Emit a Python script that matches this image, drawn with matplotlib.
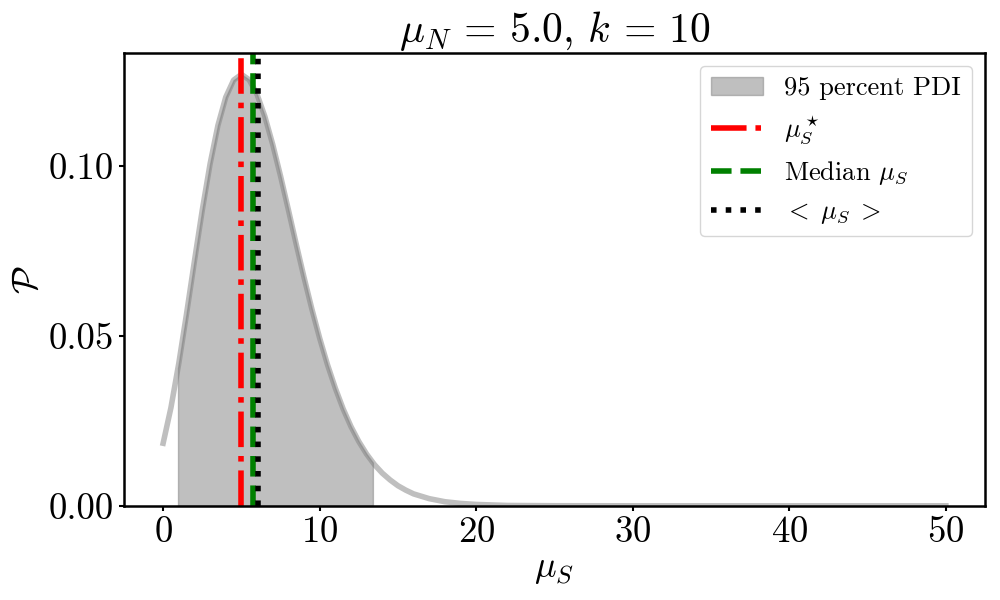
import numpy as np
import matplotlib
matplotlib.use("Agg")
import matplotlib.pyplot as plt

# ---- data ----
mu_s = [0, 0.5, 1, 1.5, 2, 2.5, 3, 3.5, 4, 4.5, 5, 5.5, 6, 6.5, 7, 7.5, 8, 8.5,
        9, 9.5, 10, 10.5, 11, 11.5, 12, 12.5, 13, 13.5, 14, 14.5, 15, 15.5, 16,
        17, 18, 19, 20, 22, 25, 30, 35, 40, 45, 50]
prob = [0.0184, 0.0289, 0.0419, 0.0566, 0.0720, 0.0870, 0.1006, 0.1119, 0.1202,
        0.1252, 0.1269, 0.1253, 0.1210, 0.1145, 0.1063, 0.0970, 0.0871, 0.0770,
        0.0672, 0.0579, 0.0493, 0.0415, 0.0346, 0.0285, 0.0233, 0.0189, 0.0152,
        0.0121, 0.0096, 0.0076, 0.0059, 0.0046, 0.0035, 0.0021, 0.0012, 0.0007,
        0.0004, 0.0001, 0.00002, 0.0, 0.0, 0.0, 0.0, 0.0]
pdi_bounds = [0.95, 13.4]
pdi_bound_prob = [0.0405, 0.0127]
mode_mu = 5.0
median_mu = 5.75
mean_mu = 6.09

plt.rcParams['mathtext.fontset'] = 'cm'
plt.rcParams['font.family'] = 'serif'
plt.rcParams['font.serif'] = ['cmr10']
plt.rcParams['axes.formatter.use_mathtext'] = True
plt.rcParams['axes.unicode_minus'] = False

fig = plt.figure(figsize=(10, 6), dpi=100)
ax = fig.add_axes([0.124, 0.157, 0.861, 0.755])

mu_arr = np.array(mu_s)
p_arr = np.array(prob)
ax.plot(mu_arr, p_arr, color='grey', alpha=0.5, lw=4)

inside = (mu_arr > pdi_bounds[0]) & (mu_arr < pdi_bounds[1])
fx = np.concatenate([[pdi_bounds[0]], mu_arr[inside], [pdi_bounds[1]]])
fy = np.concatenate([[pdi_bound_prob[0]], p_arr[inside], [pdi_bound_prob[1]]])
ax.fill_between(fx, 0, fy, color='grey', alpha=0.5, label='95 percent PDI')

ax.axvline(mode_mu, color='red', ls='-.', lw=4, label=r'$\mu_S^\star$')
ax.axvline(median_mu, color='green', ls='--', lw=4, label=r'Median $\mu_S$')
ax.axvline(mean_mu, color='black', ls=':', lw=4, label=r'$<\;\mu_S\;>$')

ax.set_ylim(bottom=0)
ax.set_xticks([0, 10, 20, 30, 40, 50])
ax.set_yticks([0.0, 0.05, 0.10])
ax.set_yticklabels(['0.00', '0.05', '0.10'])
ax.tick_params(labelsize=26.5, width=1.5)
for s in ax.spines.values():
    s.set_linewidth(1.8)

ax.set_xlabel(r'$\mu_S$', fontsize=26)
ax.set_ylabel(r'$\mathcal{P}$', fontsize=26)
ax.set_title(r'$\mu_N\,=\,5.0$, $k\,=\,10$', fontsize=30)
ax.legend(loc='upper right', fontsize=19)

fig.savefig('out.png', dpi=100)
